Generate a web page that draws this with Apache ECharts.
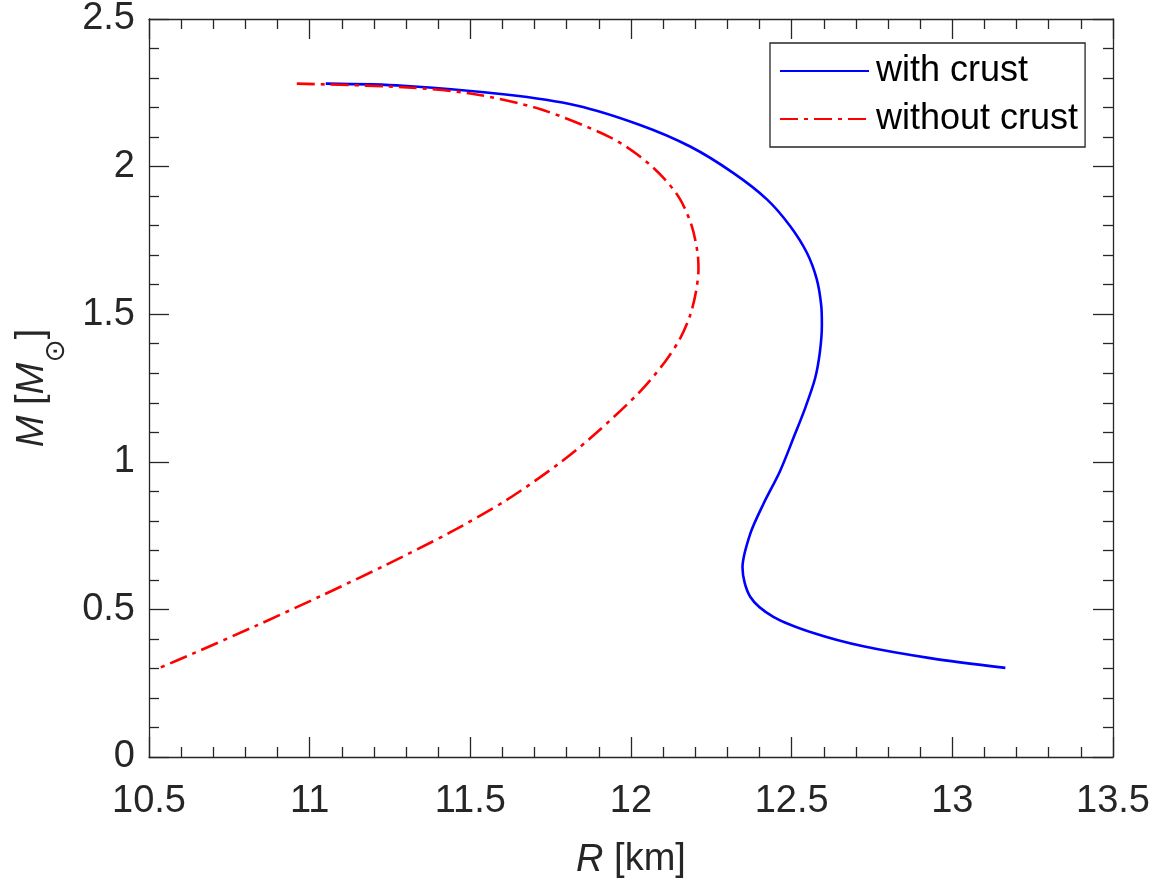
<!DOCTYPE html>
<html>
<head>
<meta charset="utf-8">
<script src="https://cdn.jsdelivr.net/npm/echarts@6/dist/echarts.min.js"></script>
<style>
html,body{margin:0;padding:0;background:#fff;}
#main{width:1159px;height:884px;}
</style>
</head>
<body>
<div id="main"></div>
<script>
// R [km] and M [M_sun]
const withCrustR = [11.05, 11.29, 11.61, 11.83, 12.028, 12.184, 12.319, 12.423, 12.495, 12.547, 12.578, 12.592, 12.594, 12.588, 12.573, 12.542, 12.510, 12.464, 12.412, 12.371, 12.347, 12.371, 12.443, 12.568, 12.723, 12.931, 13.165];
const withCrustM = [2.281, 2.274, 2.244, 2.207, 2.141, 2.068, 1.978, 1.889, 1.799, 1.709, 1.619, 1.530, 1.463, 1.373, 1.283, 1.182, 1.093, 0.969, 0.857, 0.756, 0.642, 0.543, 0.475, 0.420, 0.375, 0.335, 0.302];
const withoutCrustR = [10.96, 11.29, 11.505, 11.719, 11.934, 12.028, 12.101, 12.153, 12.189, 12.207, 12.210, 12.202, 12.184, 12.153, 12.106, 12.028, 11.889, 11.778, 11.612, 11.434, 11.234, 11.034, 10.834, 10.634, 10.529];
const withoutCrustM = [2.281, 2.269, 2.247, 2.194, 2.100, 2.034, 1.962, 1.889, 1.799, 1.709, 1.653, 1.575, 1.496, 1.418, 1.339, 1.238, 1.095, 0.996, 0.870, 0.759, 0.649, 0.545, 0.445, 0.349, 0.300];
const seriesNames = ['with crust', 'without crust'];
const xRange = [10.5, 13.5], xStep = 0.5;
const yRange = [0, 2.5], yStep = 0.5;

const pairs = (a, b) => a.map((v, i) => [v, b[i]]);
const FONT = "'Liberation Sans', Arial, Helvetica, sans-serif";
const AX = '#262626';
const LABEL_SIZE = 38;

function axisCommon(showLabel, margin) {
  return {
    axisLine: { show: true, onZero: false, lineStyle: { color: AX, width: 1.3 } },
    axisTick: { show: true, inside: true, length: 20, lineStyle: { color: AX, width: 1.3 } },
    minorTick: { show: true, splitNumber: 5, length: 10, lineStyle: { color: AX, width: 1.3 } },
    splitLine: { show: false },
    axisLabel: { show: showLabel, color: AX, fontSize: LABEL_SIZE, fontFamily: FONT, margin: margin || 8 }
  };
}

const chart = echarts.init(document.getElementById('main'), null, { renderer: 'canvas' });
chart.setOption({
  animation: false,
  backgroundColor: '#fff',
  grid: { left: 149, top: 15, right: 46, bottom: 126, containLabel: false },
  legend: {
    data: seriesNames,
    orient: 'vertical',
    left: 770, top: 43,
    backgroundColor: '#fff',
    borderColor: AX, borderWidth: 1.3,
    padding: [10, 7, 10, 9],
    itemWidth: 89, itemHeight: 36, itemGap: 12,
    itemStyle: { opacity: 0 },
    textStyle: { fontSize: 36, fontFamily: FONT, color: '#000', padding: [0, 0, 0, 2] }
  },
  xAxis: [
    Object.assign(axisCommon(true, 26), {
      type: 'value', position: 'bottom', min: xRange[0], max: xRange[1], interval: xStep,
      name: '{i|R} [km]', nameLocation: 'middle', nameGap: 84,
      nameTextStyle: { fontSize: LABEL_SIZE, fontFamily: FONT, color: AX,
        rich: { i: { fontSize: LABEL_SIZE, fontFamily: FONT, fontStyle: 'italic', color: AX } } }
    }),
    Object.assign(axisCommon(false), {
      type: 'value', position: 'top', min: xRange[0], max: xRange[1], interval: xStep
    })
  ],
  yAxis: [
    Object.assign(axisCommon(true, 14), {
      type: 'value', position: 'left', min: yRange[0], max: yRange[1], interval: yStep,
      name: '{i|M}{n| [}{i|M}{s|⊙}{n|]}', nameLocation: 'middle', nameGap: 98, nameRotate: 90,
      nameTextStyle: { fontSize: LABEL_SIZE, fontFamily: FONT, color: AX,
        rich: {
          i: { fontSize: LABEL_SIZE, fontFamily: FONT, fontStyle: 'italic', color: AX, lineHeight: 38, verticalAlign: 'top' },
          n: { fontSize: LABEL_SIZE, fontFamily: FONT, color: AX, lineHeight: 38, verticalAlign: 'top' },
          s: { fontSize: 28, fontFamily: "'DejaVu Sans', sans-serif", color: AX, lineHeight: 28, verticalAlign: 'top', padding: [30, 0, 0, 0] }
        } }
    }),
    Object.assign(axisCommon(false), {
      type: 'value', position: 'right', min: yRange[0], max: yRange[1], interval: yStep
    })
  ],
  series: [
    {
      name: seriesNames[0], type: 'line', xAxisIndex: 0, yAxisIndex: 0,
      data: pairs(withCrustR, withCrustM),
      symbol: 'none', smooth: 0.3, clip: true,
      lineStyle: { color: '#0000ff', width: 2.6 }, itemStyle: { color: '#0000ff' }
    },
    {
      name: seriesNames[1], type: 'line', xAxisIndex: 0, yAxisIndex: 0,
      data: pairs(withoutCrustR, withoutCrustM),
      symbol: 'none', smooth: 0.3, clip: true,
      lineStyle: { color: '#ff0000', width: 2.6, type: [18, 6, 4, 6] }, itemStyle: { color: '#ff0000' }
    }
  ]
});
</script>
</body>
</html>
